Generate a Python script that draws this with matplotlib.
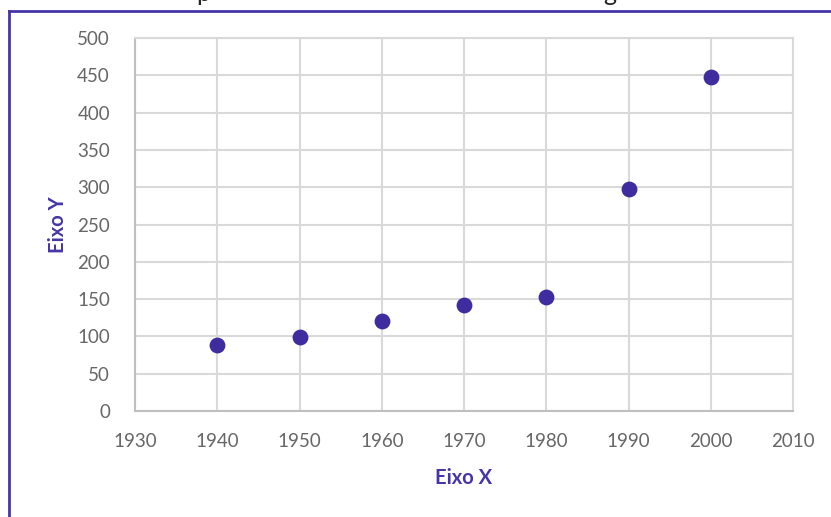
import matplotlib.pyplot as plt
from matplotlib.lines import Line2D

YEARS = [1940, 1950, 1960, 1970, 1980, 1990, 2000]
VALUES = [88, 99, 120, 142, 153, 298, 448]

X_TICKS = list(range(1930, 2011, 10))
Y_TICKS = list(range(0, 501, 50))

PURPLE = "#4535A8"
MARKER = "#3F2DA0"


def main():
    plt.rcParams["font.family"] = ["Lato", "DejaVu Sans"]
    fig = plt.figure(figsize=(8.31, 5.17), dpi=100)
    ax = fig.add_axes([135 / 831, 1 - 411 / 517, (793 - 135) / 831, (411 - 38) / 517])

    ax.scatter(YEARS, VALUES, s=130, color=MARKER, zorder=3, linewidths=0)

    ax.set_xlim(1930, 2010)
    ax.set_ylim(0, 500)
    ax.set_xticks(X_TICKS)
    ax.set_yticks(Y_TICKS)
    ax.tick_params(length=0, labelsize=13.5, labelcolor="#666666")
    ax.tick_params(axis="y", pad=18)
    ax.tick_params(axis="x", pad=16)
    ax.grid(True, color="#D9D9D9", linewidth=1.5)
    ax.set_axisbelow(True)
    for side in ["top", "right"]:
        ax.spines[side].set_color("#D9D9D9")
        ax.spines[side].set_linewidth(1.5)
    for side in ["left", "bottom"]:
        ax.spines[side].set_color("#BFBFBF")
        ax.spines[side].set_linewidth(1.5)

    ax.set_xlabel("Eixo X", fontsize=14.5, fontweight="bold", color=PURPLE, va="center")
    ax.set_ylabel("Eixo Y", fontsize=14.5, fontweight="bold", color=PURPLE, va="center")
    ax.xaxis.set_label_coords(0.5, (411 - 478) / 373)
    ax.yaxis.set_label_coords((58 - 135) / 658, 0.5)

    # frame of the surrounding chart area (only left and top edges visible)
    fig.add_artist(Line2D([9 / 831, 9 / 831], [0, 1 - 11 / 517], transform=fig.transFigure,
                          color=PURPLE, linewidth=2))
    fig.add_artist(Line2D([9 / 831, 1], [1 - 11 / 517, 1 - 11 / 517], transform=fig.transFigure,
                          color=PURPLE, linewidth=2))

    # descenders of the cut-off title
    fig.text(203 / 831, 1 - 1 / 517, "p", fontsize=18, color="#222222", va="baseline", ha="center")
    fig.text(610 / 831, 1 - 1 / 517, "g", fontsize=18, color="#222222", va="baseline", ha="center")

    fig.savefig("out.png", dpi=100)


if __name__ == "__main__":
    main()
